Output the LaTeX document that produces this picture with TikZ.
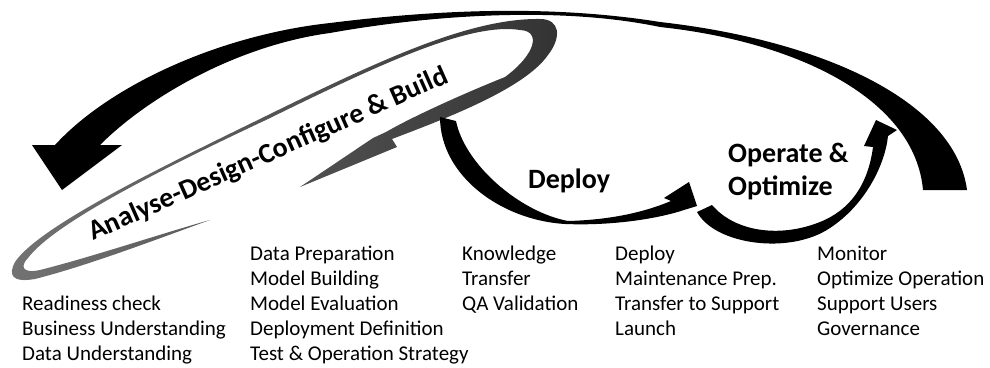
\documentclass[tikz,border=0pt]{standalone}
\usepackage{fontspec}
\setmainfont{Carlito}

\begin{document}
\begin{tikzpicture}[x=1pt,y=-1pt,
  phase/.style={font=\bfseries\fontsize{28}{33}\selectfont, inner sep=0pt, align=left},
  tasks/.style={font=\fontsize{21}{25}\selectfont, inner sep=0pt, align=left, anchor=base west}]
  \useasboundingbox (0,0) rectangle (990,367);

  \fill[black] (967,190) .. controls (955,100) and (820,40) .. (660,22)
    .. controls (560,6) and (450,8) .. (330,23)
    .. controls (220,35) and (110,85) .. (55,145)
    -- (32,145) -- (62,190) -- (122,145) -- (100,145)
    .. controls (150,95) and (240,45) .. (330,33)
    .. controls (430,15) and (560,6) .. (660,27)
    .. controls (800,42) and (915,100) .. (923,190) -- cycle;

  \shade[left color=black!55, right color=black!80] (300,187) -- (397,147) -- (392,139)
    .. controls (450,117) and (525,88) .. (548,55)
    .. controls (562,37) and (560,19) .. (540,19)
    .. controls (470,18) and (380,60) .. (266,116)
    .. controls (170,163) and (40,225) .. (15,262)
    .. controls (8,275) and (12,283) .. (35,279)
    .. controls (90,265) and (160,238) .. (210,220)
    .. controls (160,234) and (95,256) .. (40,270)
    .. controls (22,274) and (20,266) .. (28,258)
    .. controls (55,222) and (170,165) .. (268,119)
    .. controls (380,64) and (470,22) .. (520,30)
    .. controls (542,31) and (535,55) .. (505,77)
    .. controls (460,95) and (410,118) .. (386,132)
    -- (373,138) -- cycle;

  \fill[black] (440,117) .. controls (440,175) and (500,220) .. (565,224)
    .. controls (615,226) and (660,218) .. (684,210)
    -- (697,206) -- (689,182) -- (664,198) -- (671,201)
    .. controls (640,214) and (605,220) .. (568,221)
    .. controls (520,212) and (465,165) .. (456,121) -- cycle;

  \fill[black] (697,212) .. controls (715,245) and (790,255) .. (830,228)
    .. controls (865,205) and (885,165) .. (888,136)
    -- (897,130) -- (876,120) -- (864,146) -- (873,147)
    .. controls (868,185) and (850,210) .. (820,222)
    .. controls (780,238) and (735,232) .. (712,205) -- cycle;

  \node (analyse) [phase, rotate=24, anchor=base] at (271.5,161.5) {Analyse-Design-Configure \& Build};
  \node (deploy) [phase, anchor=base west] at (528,188) {Deploy};
  \node (operate) [phase, anchor=base west] at (728,195) {Operate \&\\Optimize};

  \node (readiness) [tasks] at (22,360) {Readiness check\\Business Understanding\\Data Understanding};
  \node (preparation) [tasks] at (250,360) {Data Preparation\\Model Building\\Model Evaluation\\Deployment Definition\\Test \& Operation Strategy};
  \node (knowledge) [tasks] at (462,310) {Knowledge\\Transfer\\QA Validation};
  \node (launch) [tasks] at (615,335) {Deploy\\Maintenance Prep.\\Transfer to Support\\Launch};
  \node (monitor) [tasks] at (817,335) {Monitor\\Optimize Operation\\Support Users\\Governance};
\end{tikzpicture}
\end{document}
